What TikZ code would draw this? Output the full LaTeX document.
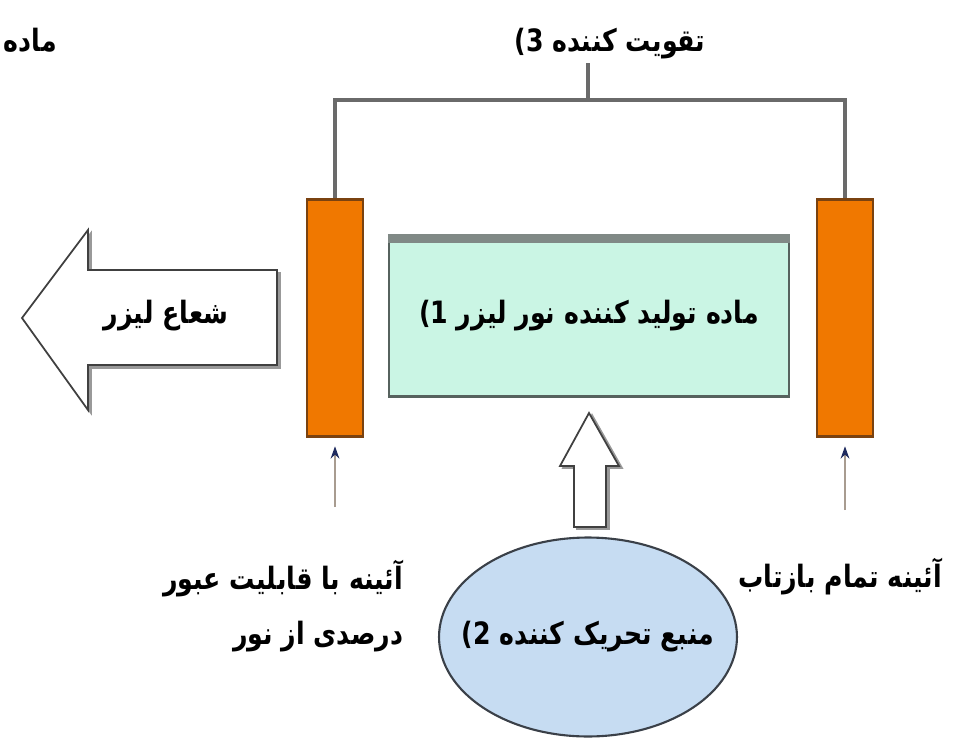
\documentclass[tikz,border=0pt]{standalone}
\usepackage{fontspec}
\setmainfont{DejaVu Sans}
\newfontfamily\farsi[Script=Arabic, FakeStretch=0.82]{DejaVu Sans}
\TeXXeTstate=1
\usetikzlibrary{positioning, arrows.meta, shapes.geometric, calc}

\definecolor{mirrorfill}{HTML}{F07800}
\definecolor{mirrorline}{HTML}{7A4210}
\definecolor{boxfill}{HTML}{CAF5E4}
\definecolor{boxline}{HTML}{56625E}
\definecolor{pumpfill}{HTML}{C6DCF2}
\definecolor{pumpline}{HTML}{3A4048}
\definecolor{barcol}{HTML}{6A6A6A}
\definecolor{feedcol}{HTML}{A89C90}
\definecolor{tipcol}{HTML}{1E2A5E}

\begin{document}
\begin{tikzpicture}[x=0.02cm, y=-0.02cm,
        lbl/.style={font=\farsi\bfseries\fontsize{17.5}{31}\selectfont, align=center, inner sep=2pt},
        mirror/.style={rectangle, draw=mirrorline, line width=1.2pt, fill=mirrorfill,
                       minimum width=1.12cm, minimum height=4.74cm, inner sep=0pt},
        gainbox/.style={rectangle, draw=boxline, line width=1.4pt, fill=boxfill,
                        minimum width=8.0cm, minimum height=3.22cm, lbl},
        pump/.style={ellipse, draw=pumpline, line width=1.2pt, fill=pumpfill,
                     minimum width=5.96cm, minimum height=3.98cm, inner sep=0pt},
        hollow/.style={draw=black!75, fill=white, line width=1pt, line join=miter},
        shade/.style={draw=black!40, fill=black!40, line width=1pt},
        bar/.style={draw=barcol, line width=2pt},
        feed/.style={-{Stealth[length=7pt, width=5pt, color=tipcol]}, draw=feedcol,
                     line width=0.8pt, shorten >=5pt}
    ]
        \useasboundingbox (0,0) rectangle (958,741);

        \node[lbl, anchor=west] (cut) at (0,40) {\beginR ماده\endR};
        \node[lbl] (amp) at (610,44) {3) \beginR تقویت کننده\endR};

        \node[mirror] (lmir) at (335,318) {};
        \node[mirror] (rmir) at (845,318) {};
        \node[gainbox] (gain) at (589,316) {1) \beginR ماده تولید کننده نور لیزر\endR};
        \draw[draw=boxline!75, line width=5pt]
            ([yshift=-2.5pt]gain.north west) -- ([yshift=-2.5pt]gain.north east);

        \coordinate (barM) at (588,100);
        \draw[bar] (lmir.north) |- (barM) -| (rmir.north);
        \draw[bar] (barM) -- (barM |- amp.south);

        \coordinate (lfoot) at (335,507);
        \coordinate (rfoot) at (845,510);
        \draw[feed] (lfoot) -- (lmir.south);
        \draw[feed] (rfoot) -- (rmir.south);

        \draw[shade, shift={(3,3)}] (277,270) -- (88,270) -- (88,230) -- (22,318)
            -- (88,410) -- (88,365) -- (277,365) -- cycle;
        \draw[hollow] (277,270) -- (88,270) -- (88,230) -- (22,318)
            -- (88,410) -- (88,365) -- (277,365) -- cycle;
        \node[lbl] (beam) at (166,316) {\beginR شعاع لیزر\endR};

        \node[pump] (src) at (588,637) {};
        \node[lbl] (srctext) at (src.center) {2) \beginR منبع تحریک کننده\endR};
        \draw[shade, shift={(3,2)}] (574,527) -- (574,466) -- (560,466) -- (589,413)
            -- (619,466) -- (606,466) -- (606,527) -- cycle;
        \draw[hollow] (574,527) -- (574,466) -- (560,466) -- (589,413)
            -- (619,466) -- (606,466) -- (606,527) -- cycle;

        \node[lbl, align=right, anchor=east] (outc) at (407,606)
            {\beginR آئینه با قابلیت عبور\endR\\ \beginR درصدی از نور\endR};
        \node[lbl] (back) at (840,577) {\beginR آئینه تمام بازتاب\endR};
    \end{tikzpicture}
\end{document}
